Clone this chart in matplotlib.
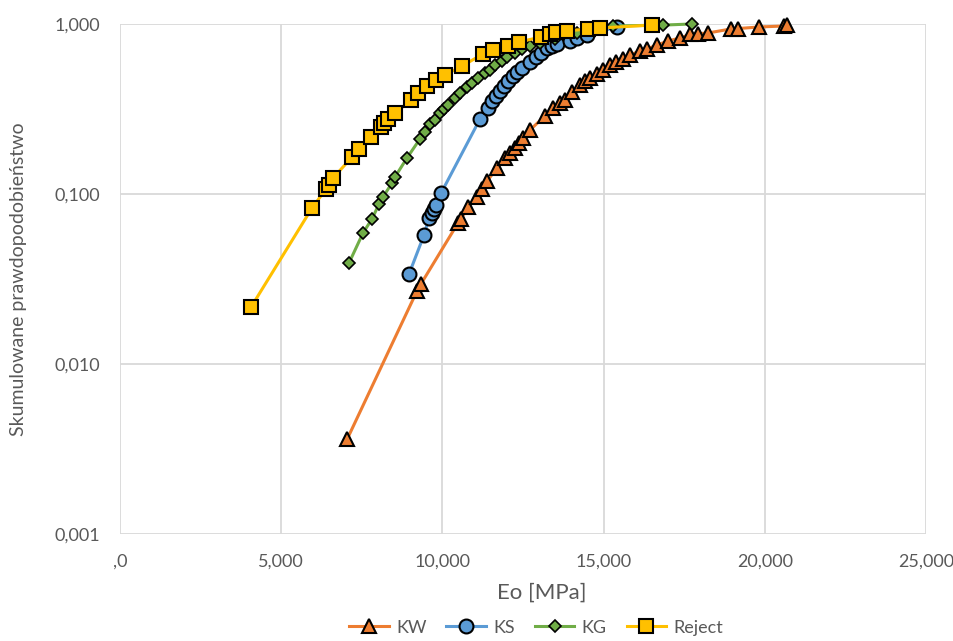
import numpy as np
import matplotlib.pyplot as plt
from matplotlib import ticker

plt.rcParams['font.family'] = ['Lato', 'DejaVu Sans']

# dane: Eo [MPa] i skumulowane prawdopodobieństwo
kw_eo = [7042, 9213, 9337, 10485, 10578, 10795, 11074, 11229, 11384, 11695, 11943,
         12098, 12253, 12377, 12501, 12718, 13184, 13432, 13649, 13804, 14021, 14269,
         14424, 14580, 14797, 14983, 15200, 15386, 15603, 15820, 16131, 16348, 16658,
         16999, 17371, 17681, 17930, 18240, 18953, 19170, 19822, 20597, 20690]
kw_p = [0.0036, 0.0269, 0.0296, 0.0675, 0.0713, 0.0839, 0.096, 0.107, 0.119, 0.142, 0.163,
        0.174, 0.187, 0.200, 0.214, 0.238, 0.288, 0.321, 0.343, 0.357, 0.398, 0.438,
        0.462, 0.481, 0.508, 0.536, 0.574, 0.598, 0.623, 0.657, 0.694, 0.713, 0.752,
        0.794, 0.827, 0.868, 0.877, 0.885, 0.935, 0.940, 0.960, 0.973, 0.980]

ks_eo = [8965, 9430, 9585, 9678, 9740, 9802, 9957, 11167, 11415, 11539, 11664, 11788,
         11912, 12036, 12191, 12315, 12470, 12718, 12904, 13059, 13246, 13401, 13556,
         13959, 14176, 14486, 15417]
ks_p = [0.0338, 0.0574, 0.0722, 0.0773, 0.0816, 0.0862, 0.101, 0.276, 0.321, 0.352, 0.377,
        0.404, 0.432, 0.462, 0.495, 0.522, 0.551, 0.598, 0.640, 0.675, 0.722, 0.743, 0.763,
        0.794, 0.827, 0.862, 0.960]

kg_eo = [7104, 7538, 7817, 8034, 8158, 8437, 8531, 8903, 9306, 9461, 9616, 9771, 9926,
         10050, 10175, 10392, 10547, 10764, 10919, 11105, 11322, 11477, 11633, 11850,
         12005, 12253, 12470, 12718, 13028, 13494, 14176, 15293, 16844, 17743]
kg_p = [0.0393, 0.059, 0.0713, 0.0873, 0.096, 0.116, 0.126, 0.163, 0.211, 0.232, 0.258,
        0.272, 0.299, 0.316, 0.334, 0.367, 0.393, 0.426, 0.450, 0.481, 0.515, 0.536, 0.574,
        0.606, 0.640, 0.675, 0.713, 0.743, 0.773, 0.816, 0.885, 0.973, 0.985, 1.0]

rej_eo = [4064, 5956, 6390, 6483, 6607, 7197, 7414, 7786, 8096, 8189, 8313, 8531, 9027,
          9244, 9523, 9802, 10081, 10608, 11260, 11570, 12035, 12377, 13059, 13339,
          13525, 13866, 14517, 14890, 16503]
rej_p = [0.0216, 0.0827, 0.107, 0.113, 0.124, 0.165, 0.184, 0.216, 0.248, 0.262, 0.276,
         0.299, 0.357, 0.393, 0.432, 0.469, 0.501, 0.566, 0.666, 0.703, 0.743, 0.784,
         0.838, 0.873, 0.897, 0.910, 0.935, 0.947, 0.985]

x_ticks = [0, 5000, 10000, 15000, 20000, 25000]
x_labels = [',0', '5,000', '10,000', '15,000', '20,000', '25,000']
y_ticks = [0.001, 0.01, 0.1, 1.0]
y_labels = ['0,001', '0,010', '0,100', '1,000']

fig = plt.figure(figsize=(9.54, 6.41), dpi=100)
ax = fig.add_axes([0.1258, 0.1669, 0.8448, 0.7957])

txt = '#595959'
ax.plot(kw_eo, kw_p, color='#ED7D31', lw=2.2, marker='^', ms=10.5,
        mfc='#ED7D31', mec='black', mew=1.5, label='KW', zorder=3, clip_on=False)
ax.plot(ks_eo, ks_p, color='#5B9BD5', lw=2.2, marker='o', ms=10,
        mfc='#5B9BD5', mec='black', mew=1.5, label='KS', zorder=4, clip_on=False)
ax.plot(kg_eo, kg_p, color='#70AD47', lw=2.2, marker='D', ms=6.5,
        mfc='#70AD47', mec='black', mew=1.2, label='KG', zorder=5, clip_on=False)
ax.plot(rej_eo, rej_p, color='#FFC000', lw=2.2, marker='s', ms=10,
        mfc='#FFC000', mec='black', mew=1.5, label='Reject', zorder=6, clip_on=False)

ax.set_yscale('log')
ax.set_xlim(0, 25000)
ax.set_ylim(0.001, 1.0)
ax.set_xticks(x_ticks)
ax.set_xticklabels(x_labels)
ax.set_yticks(y_ticks)
ax.set_yticklabels(y_labels)
ax.yaxis.set_minor_locator(ticker.NullLocator())

ax.grid(True, color='#D9D9D9', lw=1.3, zorder=0)
ax.set_axisbelow(True)
for s in ax.spines.values():
    s.set_visible(False)
ax.tick_params(axis='both', length=0, colors=txt, labelsize=13)
ax.tick_params(axis='y', pad=14)
ax.tick_params(axis='x', pad=14)

ax.set_xlabel('Eo [MPa]', fontsize=16, color=txt)
ax.xaxis.set_label_coords(0.5236, -0.095)
ax.set_ylabel('Skumulowane prawdopodobieństwo', fontsize=14, color=txt)
ax.yaxis.set_label_coords(-0.115, 0.5)

leg = fig.legend(loc='center', bbox_to_anchor=(0.562, 0.021), ncol=4, frameon=False,
                 fontsize=13, handlelength=2.2, columnspacing=1.1, handletextpad=0.4)
for t in leg.get_texts():
    t.set_color(txt)

fig.savefig('out.png', dpi=100)
